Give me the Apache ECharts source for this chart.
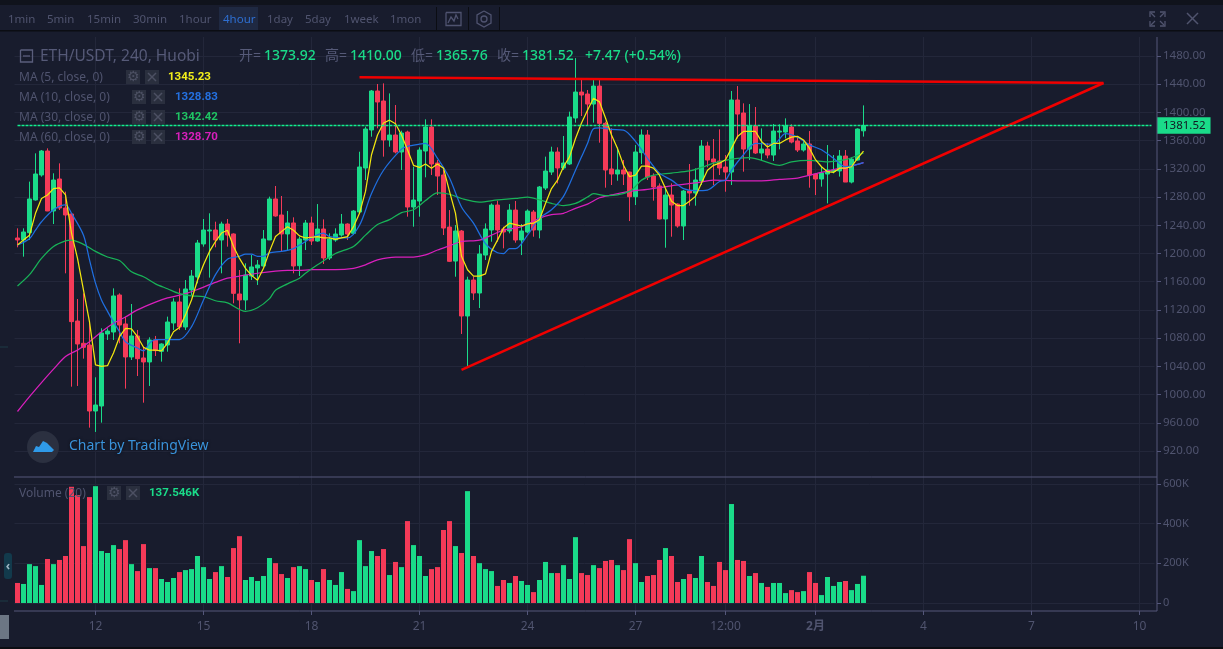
<!DOCTYPE html>
<html>
<head>
<meta charset="utf-8">
<title>ETH/USDT</title>
<script src="https://cdn.jsdelivr.net/npm/echarts@6/dist/echarts.min.js"></script>
<style>
html, body { margin: 0; padding: 0; background: #181c2d; }
#main { width: 1223px; height: 649px; }
</style>
</head>
<body>
<div id="main"></div>
<script>
// 4 hour candles: [open, close, low, high]
var candles = [
  [1222.0,1219.2,1208.8,1235.7],[1219.2,1230.5,1195.5,1235.7],[1229.5,1277.3,1219.2,1301.9],[1275.9,1312.7,1275.0,1342.0],[1311.3,1345.3,1308.9,1346.7],
  [1345.3,1260.3,1260.0,1349.1],[1260.3,1304.2,1241.8,1313.7],[1305.6,1264.5,1261.7,1327.8],[1264.5,1254.6,1171.9,1287.7],[1256.0,1103.4,1011.2,1257.0],
  [1104.3,1071.7,1012.2,1135.5],[1072.7,1067.0,1050.9,1143.5],[1070.3,976.7,953.1,1103.4],[976.7,985.2,947.0,1024.5],[983.8,1087.3,960.2,1093.9],
  [1085.9,1090.1,1077.4,1093.9],[1088.7,1139.8,1077.4,1150.6],[1141.2,1098.6,1072.7,1143.5],[1100.1,1053.3,1008.4,1110.5],[1053.3,1083.1,1049.0,1128.4],
  [1083.1,1050.9,1026.3,1091.6],[1051.9,1046.2,988.5,1067.9],[1046.2,1077.4,1012.2,1081.2],[1077.4,1062.3,1054.7,1083.1],[1061.3,1071.7,1046.7,1072.7],
  [1070.3,1102.9,1060.8,1110.5],[1101.5,1131.3,1091.6,1136.5],[1131.3,1095.8,1091.6,1150.6],[1095.8,1149.7,1091.6,1162.4],[1148.3,1168.1,1141.2,1176.6],
  [1166.7,1214.9,1157.7,1219.2],[1213.5,1233.3,1209.7,1248.9],[1231.9,1233.3,1165.8,1257.0],[1233.3,1219.2,1208.8,1245.1],[1219.2,1241.8,1171.9,1245.1],
  [1241.8,1226.2,1209.7,1248.9],[1227.7,1143.5,1129.4,1228.6],[1142.6,1134.1,1072.7,1176.6],[1134.1,1169.5,1119.9,1186.1],[1168.1,1180.9,1162.4,1197.9],
  [1179.5,1183.7,1155.4,1190.8],[1182.3,1220.6,1181.4,1233.3],[1219.2,1277.3,1219.2,1280.6],[1277.3,1253.2,1252.2,1295.7],[1254.6,1227.7,1202.6,1281.5],
  [1227.7,1243.3,1205.0,1260.3],[1243.3,1182.3,1171.9,1251.3],[1182.7,1220.5,1168.1,1223.8],[1219.1,1243.2,1204.9,1247.5],[1243.2,1217.7,1212.0,1252.2],
  [1217.7,1234.7,1216.7,1270.1],[1234.7,1193.6,1185.1,1248.4],[1193.6,1220.5,1190.8,1228.6],[1219.1,1227.6,1216.7,1235.7],[1226.2,1241.8,1223.8,1256.0],
  [1241.8,1227.6,1219.1,1242.8],[1228.6,1260.2,1226.2,1261.6],[1258.8,1322.6,1256.9,1344.3],[1321.2,1376.5,1304.2,1379.8],[1375.1,1430.4,1365.6,1431.8],
  [1430.4,1414.8,1377.4,1440.3],[1416.2,1360.9,1337.3,1441.2],[1360.9,1368.0,1351.4,1427.0],[1368.0,1343.9,1342.0,1410.5],[1343.9,1370.8,1318.4,1374.1],
  [1372.2,1265.9,1252.2,1374.1],[1265.9,1275.8,1238.0,1323.1],[1274.4,1346.7,1252.2,1350.5],[1345.3,1379.3,1308.0,1390.2],[1379.3,1326.9,1311.3,1390.2],
  [1328.3,1309.8,1282.9,1332.5],[1311.3,1236.1,1226.2,1318.4],[1237.5,1188.9,1187.9,1261.6],[1189.3,1231.9,1167.1,1240.4],[1231.9,1111.4,1085.9,1233.3],
  [1111.4,1162.4,1040.5,1167.1],[1162.4,1144.0,1134.0,1167.1],[1144.0,1199.3,1122.7,1212.0],[1197.8,1234.7,1190.8,1242.7],[1233.3,1268.7,1216.7,1271.1],
  [1268.7,1233.3,1216.7,1274.9],[1234.7,1230.5,1207.3,1238.0],[1231.9,1261.6,1228.6,1270.1],[1261.6,1219.1,1215.3,1274.4],[1219.1,1231.9,1197.8,1241.8],
  [1230.5,1260.2,1228.6,1262.6],[1258.8,1233.3,1223.8,1261.6],[1233.3,1294.3,1221.5,1295.7],[1292.8,1316.9,1290.0,1337.3],[1315.5,1343.9,1311.3,1351.4],
  [1343.9,1321.2,1299.4,1350.5],[1321.2,1328.3,1318.4,1366.6],[1326.9,1393.5,1325.4,1401.1],[1392.1,1428.9,1385.5,1477.0],[1428.9,1424.7,1394.9,1446.9],
  [1426.1,1411.9,1382.1,1431.8],[1411.9,1437.4,1385.5,1445.9],[1437.4,1384.5,1357.1,1445.9],[1384.5,1318.4,1293.3,1386.9],[1319.8,1312.7,1297.1,1377.4],
  [1312.7,1318.4,1303.2,1350.5],[1318.4,1312.7,1297.1,1332.5],[1315.5,1280.5,1246.0,1316.0],[1280.5,1343.9,1268.7,1353.8],[1343.0,1368.0,1326.9,1376.0],
  [1368.0,1308.4,1304.2,1375.1],[1309.8,1294.3,1274.9,1313.6],[1295.7,1248.9,1248.4,1299.4],[1248.9,1282.9,1208.2,1292.4],[1282.9,1268.7,1223.8,1299.4],
  [1270.1,1239.0,1236.6,1271.1],[1239.0,1288.6,1219.1,1290.0],[1288.6,1285.8,1267.8,1326.9],[1285.8,1304.2,1267.8,1320.7],[1302.8,1352.4,1297.1,1360.9],
  [1352.4,1332.5,1322.1,1358.5],[1334.0,1329.7,1297.1,1362.3],[1331.1,1321.2,1311.3,1376.0],[1322.6,1315.5,1287.6,1339.6],[1315.5,1417.6,1297.1,1430.4],
  [1417.6,1397.7,1363.2,1437.4],[1399.2,1348.1,1316.0,1412.9],[1348.1,1380.7,1332.5,1411.9],[1380.7,1342.5,1341.1,1407.7],[1342.5,1348.1,1332.5,1377.4],
  [1348.1,1339.6,1334.9,1356.2],[1339.6,1373.6,1331.1,1383.6],[1372.2,1373.6,1347.7,1383.1],[1372.2,1380.7,1363.2,1391.6],[1379.3,1358.0,1356.2,1383.1],
  [1359.5,1346.7,1343.9,1366.6],[1346.7,1355.2,1344.4,1360.9],[1355.2,1311.3,1293.3,1373.6],[1312.7,1305.6,1282.9,1313.6],[1305.6,1314.1,1294.8,1323.1],
  [1312.7,1318.4,1271.1,1353.8],[1316.5,1318.4,1313.6,1339.6],[1317.0,1338.2,1309.0,1346.7],[1338.2,1301.3,1301.3,1346.7],[1301.3,1333.9,1299.4,1336.3],
  [1332.5,1376.5,1331.6,1377.4],[1373.92,1381.52,1365.76,1410.0]
];

// volume per candle, in K
var volumesK = [
  101,96,196,186,91,222,196,217,237,586,
  544,287,534,589,262,252,292,272,317,196,
  161,297,176,176,121,106,126,156,166,171,
  237,181,121,156,186,131,277,337,116,131,
  111,136,227,201,146,126,181,186,171,116,
  106,171,116,91,156,71,60,317,186,262,
  237,272,141,207,181,413,292,237,136,171,
  181,368,413,287,252,564,237,201,171,161,
  86,116,101,136,111,91,55,116,207,151,
  151,191,121,332,151,141,191,176,212,217,
  191,166,322,201,106,136,141,217,277,237,
  106,121,146,126,237,106,86,207,166,499,
  217,212,136,151,101,81,101,101,50,65,
  55,60,156,101,40,131,86,106,111,65,
  96,137.546
];

// moving averages
var ma5 = [
  1212,1219,1226,1257,1278,1283,1292,1293,1283,1229,
  1193,1148,1103,1042,1040,1041,1059,1082,1094,1093,
  1082,1067,1063,1063,1062,1073,1089,1095,1113,1134,
  1162,1184,1203,1217,1229,1233,1210,1193,1179,1169,
  1162,1179,1203,1224,1231,1238,1233,1225,1222,1223,
  1224,1222,1222,1220,1222,1224,1238,1257,1288,1340,
  1368,1385,1389,1384,1368,1347,1325,1322,1327,1321,
  1327,1321,1288,1257,1196,1177,1168,1168,1171,1203,
  1219,1236,1243,1241,1239,1242,1243,1248,1271,1292,
  1304,1323,1337,1363,1385,1403,1420,1415,1392,1368,
  1349,1325,1309,1311,1324,1324,1321,1311,1292,1274,
  1268,1268,1274,1281,1300,1318,1325,1328,1333,1349,
  1366,1373,1373,1373,1359,1351,1356,1356,1361,1365,
  1366,1361,1349,1333,1323,1316,1315,1321,1321,1323,
  1335,1345.23
];
// the slower averages are read at the points where they bend: [candle, value]
var ma10 = [
  [0,1212],[2,1221],[3,1233],[4,1245],[6,1262],[8,1269],[9,1257],[11,1226],[12,1191],[13,1158],
  [14,1134],[15,1118],[16,1103],[17,1089],[18,1075],[20,1066],[21,1062],[22,1073],[23,1078],[27,1078],
  [29,1096],[31,1134],[33,1170],[35,1192],[37,1196],[38,1199],[39,1199],[40,1196],[41,1196],[42,1201],
  [44,1203],[46,1207],[47,1212],[51,1229],[52,1224],[55,1222],[57,1240],[59,1285],[61,1318],[64,1348],
  [65,1352],[67,1355],[68,1356],[70,1335],[72,1307],[74,1266],[76,1243],[78,1214],[80,1201],[81,1200],
  [82,1207],[83,1207],[85,1226],[87,1250],[89,1262],[91,1281],[93,1318],[94,1337],[95,1356],[96,1377],
  [97,1378],[99,1376],[101,1375],[103,1359],[105,1335],[107,1314],[109,1304],[111,1292],[113,1289],[115,1290],
  [117,1302],[118,1304],[119,1318],[121,1340],[123,1356],[126,1355],[128,1370],[130,1365],[132,1354],[134,1347],
  [136,1335],[138,1323],[141,1328.83]
];
var ma30 = [
  [0,1154],[2,1170],[4,1193],[6,1210],[8,1218],[9,1219],[11,1213],[13,1203],[15,1195],[17,1190],
  [19,1174],[21,1167],[23,1157],[25,1150],[27,1143],[29,1140],[31,1139],[33,1133],[35,1130],[38,1118],
  [40,1123],[42,1136],[43,1148],[45,1157],[47,1165],[48,1172],[50,1184],[53,1200],[56,1210],[58,1226],
  [60,1241],[62,1248],[64,1258],[66,1262],[68,1275],[70,1286],[72,1284],[74,1278],[77,1273],[80,1276],
  [83,1278],[85,1280],[87,1276],[89,1271],[91,1268],[93,1271],[95,1280],[96,1285],[98,1282],[100,1283],
  [102,1288],[103,1295],[104,1304],[106,1311],[109,1314],[112,1317],[114,1322],[116,1328],[118,1332],[120,1335],
  [122,1336],[124,1332],[127,1325],[129,1330],[132,1332],[135,1330],[138,1333],[141,1342.42]
];
var ma60 = [
  [0,976],[2,997],[4,1017],[6,1036],[8,1054],[10,1063],[12,1075],[14,1089],[16,1101],[18,1110],
  [20,1120],[23,1131],[25,1137],[28,1143],[30,1149],[33,1159],[35,1165],[37,1168],[40,1172],[43,1175],
  [45,1176],[47,1176],[49,1177],[53,1177],[56,1179],[58,1184],[60,1191],[63,1195],[66,1195],[68,1198],
  [70,1205],[72,1211],[74,1217],[77,1219],[79,1226],[81,1233],[84,1238],[87,1250],[89,1255],[91,1257],
  [93,1264],[95,1270],[97,1279],[99,1283],[102,1288],[105,1291],[109,1296],[113,1300],[116,1304],[120,1303],
  [124,1303],[127,1305],[130,1307],[133,1313],[136,1319],[139,1324],[141,1328.70]
];

// hand drawn trend lines, [candle, price]
var trendTop = [[57,1450],[181,1441.7]];
var trendLow = [[74,1035],[181,1441.7]];

// time axis: one category per 4 hours, also the empty room right of the last candle
var slotCount = 190;
var tickSlots = [13,31,49,67,85,103,118,133,151,169,187];
var tickLabels = ['12','15','18','21','24','27','12:00','2月','4','7','10'];
var priceTicks = {min: 920, max: 1480, step: 40};
var volumeTicks = {min: 0, max: 600, step: 200};
var lastPrice = 1381.52;
var lastPriceLine = [[0, lastPrice], [slotCount - 1, lastPrice]];

var periods = ['1min','5min','15min','30min','1hour','4hour','1day','5day','1week','1mon'];
var periodX = [8,47,87,133,179,223,267,305,344,390];

var UP = '#1adb89';
var DOWN = '#f43a58';
var BG = '#181c2d';
var GRID = '#23273a';
var AXIS = '#54577a';
var TXT = '#50546f';
var FONT = '"Noto Sans", "Noto Sans CJK SC", sans-serif';
var NUM = 'Roboto, "Noto Sans", sans-serif';

var categories = [];
for (var i = 0; i < slotCount; i++) categories.push(String(i));

var isTick = function (index) { return tickSlots.indexOf(index) >= 0; };

var volumeData = volumesK.map(function (v, i) {
    return { value: v, itemStyle: { color: candles[i][1] >= candles[i][0] ? UP : DOWN } };
});

function txt(x, y, text, color, size, weight, extra, family) {
    var style = {
        x: x, y: y + 1.5, text: text, fill: color,
        font: (weight || 'normal') + ' ' + size + 'px ' + (family || FONT),
        textVerticalAlign: 'middle'
    };
    for (var k in extra || {}) style[k] = extra[k];
    return { type: 'text', z: 20, silent: true, style: style };
}
function box(x, y, w, h, color, r, z) {
    return { type: 'rect', z: z || 20, silent: true, shape: { x: x, y: y, width: w, height: h, r: r || 0 }, style: { fill: color } };
}
function seg(x1, y1, x2, y2, color, w) {
    return { type: 'line', z: 15, silent: true, shape: { x1: x1, y1: y1, x2: x2, y2: y2 }, style: { stroke: color, lineWidth: w || 1 } };
}
function poly(points, color, w) {
    return { type: 'polyline', z: 20, silent: true, shape: { points: points }, style: { stroke: color, lineWidth: w || 1.3, fill: 'none' } };
}
function dot(cx, cy, r, fill, stroke) {
    return { type: 'circle', z: 20, silent: true, shape: { cx: cx, cy: cy, r: r }, style: { fill: fill, stroke: stroke || 'none', lineWidth: 1.3 } };
}
// small gear and close buttons next to the study names
function studyButtons(x, y) {
    return [
        box(x, y - 7, 14, 14, '#2a2f3e'),
        txt(x + 7, y - 1.5, '⚙', '#4c5063', 14, 'normal', { textAlign: 'center' }),
        box(x + 19, y - 7, 14, 14, '#2a2f3e'),
        poly([[x + 22, y - 4], [x + 30, y + 4]], '#4c5063', 1.4),
        poly([[x + 30, y - 4], [x + 22, y + 4]], '#4c5063', 1.4)
    ];
}

var chrome = [];
// toolbar
chrome.push(box(0, 0, 1223, 5, '#10131c'));
chrome.push(box(0, 5, 1223, 25, BG));
chrome.push(box(0, 30, 1223, 1.5, '#0b0d13'));
chrome.push(box(219, 7, 39, 23, '#1f2942'));
periods.forEach(function (p, n) {
    chrome.push(txt(periodX[n], 18.5, p, p === '4hour' ? '#2e6fd2' : TXT, 11.5));
});
chrome.push(box(436, 7, 1, 23, '#0b0d13'));
chrome.push(box(468, 7, 1, 23, '#0b0d13'));
chrome.push(box(499, 7, 1, 23, '#0b0d13'));
chrome.push(poly([[446,12.5],[461,12.5],[461,25.5],[446,25.5],[446,12.5]], '#4f5370'));
chrome.push(poly([[448,23],[451,17],[454,21],[456,15],[458,19]], '#4f5370'));
chrome.push(poly([[484,11],[491,15],[491,23],[484,27],[477,23],[477,15],[484,11]], '#4f5370'));
chrome.push(dot(484, 19, 3, 'none', '#4f5370'));
[[[1150,17],[1150,12],[1155,12]], [[1160,12],[1165,12],[1165,17]], [[1165,21],[1165,26],[1160,26]], [[1155,26],[1150,26],[1150,21]],
 [[1151,13],[1155,17]], [[1164,13],[1160,17]], [[1164,25],[1160,21]], [[1151,25],[1155,21]]].forEach(function (p) {
    chrome.push(poly(p, '#50546f'));
});
chrome.push(poly([[1187,13],[1198,24]], '#50546f', 1.5));
chrome.push(poly([[1198,13],[1187,24]], '#50546f', 1.5));
// pane borders
chrome.push(seg(14, 477, 1157, 477, AXIS));
chrome.push(seg(14, 611, 1157, 611, AXIS));
chrome.push(seg(1157, 37, 1157, 611, AXIS));
// symbol header
chrome.push(poly([[20.5,50],[32.5,50],[32.5,62],[20.5,62],[20.5,50]], '#5a5e7c'));
chrome.push(poly([[23,56],[30,56]], '#5a5e7c'));
chrome.push(txt(40, 55, 'ETH/USDT, 240, Huobi', '#565a78', 15.5));
[[239,'开=',1],[264,'1373.92',0],[325,'高=',1],[350,'1410.00',0],[411,'低=',1],[436,'1365.76',0],[497,'收=',1],[522,'1381.52',0],[585,'+7.47 (+0.54%)',0]]
    .forEach(function (h) {
        chrome.push(txt(h[0], 55, h[1], h[2] ? '#565a78' : UP, 14, h[2] ? 'normal' : 500));
    });
// moving average legend
[['MA (5, close, 0)', 77, 126, '1345.23', '#f2ee1b', 168],
 ['MA (10, close, 0)', 97, 132, '1328.83', '#2470e0', 175],
 ['MA (30, close, 0)', 117, 132, '1342.42', '#1fc463', 175],
 ['MA (60, close, 0)', 137, 132, '1328.70', '#d91fbc', 175]].forEach(function (m) {
    chrome.push(txt(19, m[1] - 1, m[0], TXT, 12));
    chrome = chrome.concat(studyButtons(m[2], m[1]));
    chrome.push(txt(m[5], m[1] - 1, m[3], m[4], 11.5, 'bold', null, NUM));
});
// volume legend
chrome.push(txt(19, 492, 'Volume (20)', TXT, 12));
chrome = chrome.concat(studyButtons(107, 493));
chrome.push(txt(149, 492, '137.546K', UP, 11.5, 'bold', null, NUM));
// tradingview badge
chrome.push(dot(43, 447, 16, '#2b3040'));
chrome.push({ type: 'polygon', z: 21, silent: true, shape: { points: [[33,452],[36,446],[39,447],[43,441],[47,443],[50,446],[54,450],[52,452]] }, style: { fill: '#2f9ae8' } });
chrome.push(txt(69, 445, 'Chart by TradingView', '#3a93db', 14, 'normal', { textShadowColor: '#0b0d13', textShadowBlur: 3 }));
// left rail bits
chrome.push(box(4, 553, 8, 26, '#123a4c', 3));
chrome.push(txt(8, 565, '‹', '#9fb6c4', 12, 'bold', { textAlign: 'center' }));
chrome.push(box(0, 615, 9, 24, '#6c7684'));
chrome.push(seg(0, 347, 8, 347, '#1d3b46'));
chrome.push(seg(0, 601, 8, 601, '#1d3b46'));
chrome.push(box(0, 647, 1223, 2, '#0b0d13'));

var option = {
    backgroundColor: BG,
    animation: false,
    textStyle: { fontFamily: FONT },
    grid: [
        { left: 14.5, width: 1140, top: 37, height: 574 },   // time axis and vertical lines
        { left: 14.5, width: 1140, top: 56, height: 395 },   // price
        { left: 14.5, width: 1140, top: 484, height: 119 }   // volume
    ],
    xAxis: [
        {
            type: 'category', gridIndex: 0, data: categories,
            axisLine: { show: false },
            axisTick: { show: true, alignWithLabel: true, length: 4, lineStyle: { color: AXIS }, interval: isTick },
            splitLine: { show: true, alignWithLabel: true, lineStyle: { color: GRID }, interval: isTick },
            axisLabel: {
                color: TXT, fontSize: 12, margin: 10, interval: isTick,
                formatter: function (v, index) {
                    var label = tickLabels[tickSlots.indexOf(index)];
                    return label === '2月' ? '{m|' + label + '}' : label;
                },
                rich: { m: { fontWeight: 'bold', fontSize: 12, color: TXT } }
            }
        },
        { type: 'category', gridIndex: 1, data: categories, show: false },
        { type: 'category', gridIndex: 2, data: categories, show: false }
    ],
    yAxis: [
        { type: 'value', gridIndex: 0, show: false },
        {
            type: 'value', gridIndex: 1, position: 'right', offset: 2.5,
            min: priceTicks.min, max: priceTicks.max, interval: priceTicks.step, scale: true,
            axisLine: { show: false },
            axisTick: { show: true, length: 4, lineStyle: { color: AXIS } },
            splitLine: { show: true, lineStyle: { color: GRID } },
            axisLabel: { color: TXT, fontSize: 11.5, margin: 6, padding: [5, 0, 0, 0], formatter: function (v) { return v.toFixed(2); } }
        },
        {
            type: 'value', gridIndex: 2, position: 'right', offset: 2.5,
            min: volumeTicks.min, max: volumeTicks.max, interval: volumeTicks.step,
            axisLine: { show: false },
            axisTick: { show: true, length: 4, lineStyle: { color: AXIS } },
            splitLine: { show: true, lineStyle: { color: GRID } },
            axisLabel: { color: TXT, fontSize: 11, margin: 6, padding: [5, 0, 0, 0], formatter: function (v) { return v === 0 ? '0' : v + 'K'; } }
        }
    ],
    series: [
        {
            name: 'ETH/USDT', type: 'candlestick', xAxisIndex: 1, yAxisIndex: 1,
            data: candles, barWidth: 5, clip: false,
            itemStyle: { color: UP, color0: DOWN, borderColor: UP, borderColor0: DOWN, borderWidth: 1 }
        },
        { name: 'MA60', type: 'line', xAxisIndex: 1, yAxisIndex: 1, data: ma60, showSymbol: false, smooth: 0.3, lineStyle: { color: '#d91fbc', width: 1.25 } },
        { name: 'MA30', type: 'line', xAxisIndex: 1, yAxisIndex: 1, data: ma30, showSymbol: false, smooth: 0.3, lineStyle: { color: '#18b358', width: 1.25 } },
        { name: 'MA10', type: 'line', xAxisIndex: 1, yAxisIndex: 1, data: ma10, showSymbol: false, smooth: 0.3, lineStyle: { color: '#1f6fe0', width: 1.25 } },
        { name: 'MA5', type: 'line', xAxisIndex: 1, yAxisIndex: 1, data: ma5, showSymbol: false, lineStyle: { color: '#f2e60f', width: 1.25 } },
        {
            name: 'last', type: 'line', xAxisIndex: 1, yAxisIndex: 1, data: lastPriceLine, showSymbol: false, z: 6,
            lineStyle: { color: '#12f08f', type: [3, 1], width: 1.4 },
            endLabel: {
                show: true, distance: 5.5, formatter: lastPrice.toFixed(2), color: '#131722', fontSize: 11.5,
                backgroundColor: UP, padding: [3, 5, 2, 6]
            }
        },
        { name: 'top', type: 'line', xAxisIndex: 1, yAxisIndex: 1, data: trendTop, showSymbol: false, clip: false, z: 5, lineStyle: { color: '#f00000', width: 2.5 } },
        { name: 'low', type: 'line', xAxisIndex: 1, yAxisIndex: 1, data: trendLow, showSymbol: false, clip: false, z: 5, lineStyle: { color: '#f00000', width: 2.5 } },
        { name: 'Volume', type: 'bar', xAxisIndex: 2, yAxisIndex: 2, data: volumeData, barWidth: 5 }
    ],
    graphic: { elements: chrome }
};

var myChart = echarts.init(document.getElementById('main'));
myChart.setOption(option);
</script>
</body>
</html>
